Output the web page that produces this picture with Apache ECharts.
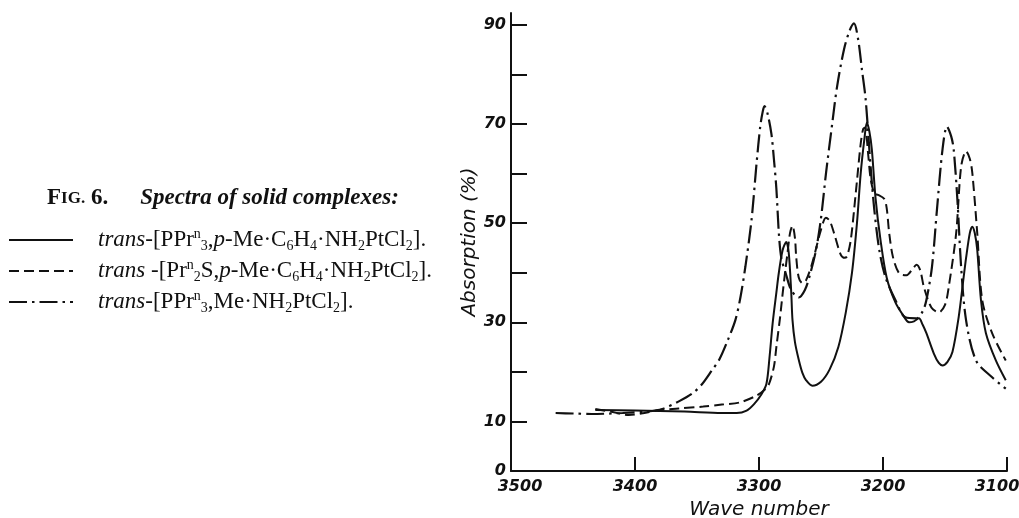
<!DOCTYPE html>
<html><head><meta charset="utf-8">
<script src="https://cdn.jsdelivr.net/npm/echarts@6/dist/echarts.min.js"></script>
<style>html,body{margin:0;padding:0;background:#fff}#c{width:1019px;height:518px}</style>
</head><body><div id="c"></div>
<script>
// ---- data ----
const xTickValues = [3500, 3400, 3300, 3200, 3100];
const yTickValues = [0, 10, 20, 30, 40, 50, 60, 70, 80, 90];
const yLabelValues = [0, 10, 30, 50, 70, 90];

const seriesNames = [
  'trans-[PPrn3,p-Me·C6H4·NH2PtCl2].',
  'trans-[Prn2S,p-Me·C6H4·NH2PtCl2].',
  'trans-[PPrn3,Me·NH2PtCl2].'
];

const solidWave = [3432,3400,3360,3330,3318,3310,3304,3298,3294,3291.5,3289,3286,3284,3281,3278,3276,3274,3273,3271,3268,3265,3262,3257,3250,3243,3236,3230,3225,3221,3218,3215,3213,3211,3209,3206,3202,3197,3190,3184,3179,3175,3171,3168,3165,3159,3155,3152,3148,3144,3139,3135,3133,3130,3128,3126,3124,3121,3117,3109,3101];
const solidAbs  = [12.3,12.2,12.0,11.7,11.7,12.2,13.5,15.5,17.6,23,29.8,36,40,44.5,46.2,44,36,30.5,26,22.5,19.8,18.3,17.2,18,20.5,25,32,40,50,60,67,70.3,68.5,64.9,55,46.6,39,34,31.5,30,30.2,30.8,29.5,27.8,23.7,21.8,21.3,22,24,31,39,43,48,49.3,48,44.6,34.5,27.8,22.3,18.3];

const dashedWave = [3432,3420,3405,3395,3380,3365,3345,3330,3316,3302,3295,3292,3288,3286,3283,3281.5,3279,3277,3275,3273,3271,3270,3268,3265,3262,3257,3250,3246,3243,3239.5,3234,3231,3229,3226,3222,3218,3216,3214.5,3212,3210,3207,3204,3199,3197,3195,3192,3187,3181,3176,3173,3170,3167,3161,3155,3150,3147,3141,3137,3133,3130,3128,3124,3120,3112,3101];
const dashedAbs  = [12.5,12.0,11.3,11.6,12.3,12.6,13.0,13.4,13.8,15.2,16.5,17.5,21,25,31,34.5,40,44,48,49.5,47,43.2,39.1,37.9,38.5,42,48.7,51.1,50.5,48,43.6,43,43.3,46.6,56,66,69,69.3,64,59,56,55.7,54.9,53,48,43.2,39.9,39.5,40.8,41.6,40.5,37.1,33,32,33.5,37.1,48,61.4,64.5,63,60.2,48,34.5,27.8,22.3];

const dashDotWave = [3464,3450,3435,3410,3390,3378,3365,3354,3346,3338,3332,3325,3319,3315,3311,3306,3302,3299,3297,3295.6,3293,3290,3288,3286,3284,3282,3278,3274,3268,3263,3259,3254,3250,3246,3241,3237,3231.5,3227,3223.4,3220,3217,3214,3210,3207,3203,3198,3190,3182,3173,3168,3165,3160.5,3156.5,3152,3148.4,3145,3143,3140,3137,3133,3125,3112,3101];
const dashDotAbs  = [11.7,11.6,11.5,11.7,12.0,12.5,14.0,15.6,17.5,20.3,22.5,26.5,30.5,35,41.2,50.7,62,69.5,72.5,73.6,72,68,63,57,48,43,39.5,36.5,35,36.5,39.5,44.6,51,60,70,77.6,85,88.8,90.3,87,81,75,61.4,52.7,44.6,39.1,34.5,31,30.8,32.2,34.5,41.2,52.7,64.9,69.5,67.5,64.9,54.7,41.2,30.4,22.3,18.9,16.6];

// ---- chart ----
const ink = '#111';
const zip = (xs, ys) => xs.map((x, i) => [x, ys[i]]);
const serif = 'Liberation Serif, DejaVu Serif, serif';
const sans = 'DejaVu Sans, sans-serif';
const FS = 23, SFS = 14, LH = 26;

const legendRich = {
  pad: {width: 20},
  r:   {fontFamily: serif, fontSize: FS, color: ink, lineHeight: LH},
  i:   {fontFamily: serif, fontSize: FS, fontStyle: 'italic', color: ink, lineHeight: LH},
  sub: {fontFamily: serif, fontSize: SFS, color: ink, lineHeight: 10, verticalAlign: 'bottom'},
  sup: {fontFamily: serif, fontSize: SFS, color: ink, lineHeight: 12, verticalAlign: 'top'}
};
const legendText = {};
legendText[seriesNames[0]] = '{pad|}{i|trans}{r|-[PPr}{sup|n}{sub|3}{r|,}{i|p}{r|-Me·C}{sub|6}{r|H}{sub|4}{r|·NH}{sub|2}{r|PtCl}{sub|2}{r|].}';
legendText[seriesNames[1]] = '{pad|}{i|trans}{r| -[Pr}{sup|n}{sub|2}{r|S,}{i|p}{r|-Me·C}{sub|6}{r|H}{sub|4}{r|·NH}{sub|2}{r|PtCl}{sub|2}{r|].}';
legendText[seriesNames[2]] = '{pad|}{i|trans}{r|-[PPr}{sup|n}{sub|3}{r|,Me·NH}{sub|2}{r|PtCl}{sub|2}{r|].}';

const styles = [
  {type: 'solid', width: 2},
  {type: [10, 5], width: 2},
  {type: [18, 5, 2.5, 5], width: 2.2}
];
const waves = [solidWave, dashedWave, dashDotWave];
const absVals = [solidAbs, dashedAbs, dashDotAbs];

const xLabelFmt = v => v === 3100 ? '{e|' + v + '}' : (v === 3500 ? '{s|' + v + '}' : '{n|' + v + '}');
const xLabelFont = {fontFamily: sans, fontWeight: 'bold', fontStyle: 'italic', fontSize: 16, color: ink};

const chart = echarts.init(document.getElementById('c'), null, {renderer: 'canvas'});
chart.setOption({
  animation: false,
  backgroundColor: '#fff',
  title: {
    left: 42, top: 180,
    text: '{F|F}{sc|IG.}{b| 6.}{sp|}{it|Spectra of solid complexes:}',
    textStyle: {
      rich: {
        F:  {fontFamily: serif, fontSize: FS, color: ink, lineHeight: LH},
        sc: {fontFamily: serif, fontSize: 17, color: ink, lineHeight: LH, verticalAlign: 'bottom', padding: [0, 0, 4, 0]},
        b:  {fontFamily: serif, fontSize: FS, fontWeight: 'bold', color: ink, lineHeight: LH},
        sp: {width: 32},
        it: {fontFamily: serif, fontSize: FS, fontStyle: 'italic', color: ink, lineHeight: LH}
      }
    }
  },
  legend: {
    orient: 'vertical', left: 3, top: 222,
    itemWidth: 64, itemHeight: 14, itemGap: 5,
    data: seriesNames,
    formatter: name => legendText[name],
    textStyle: {rich: legendRich},
    itemStyle: {opacity: 0},
    selectedMode: false
  },
  grid: {left: 511, right: 12, top: 13, bottom: 47, containLabel: false, outerBoundsMode: 'none'},
  xAxis: {
    type: 'value', min: 3100, max: 3500, interval: 100, inverse: true,
    axisLine: {onZero: false, lineStyle: {color: ink, width: 2}},
    axisTick: {inside: true, length: 14, lineStyle: {color: ink, width: 2}, customValues: xTickValues},
    axisLabel: {
      customValues: xTickValues, formatter: xLabelFmt, margin: 8,
      rich: {
        n: Object.assign({}, xLabelFont),
        s: Object.assign({padding: [0, 0, 0, 18]}, xLabelFont),
        e: Object.assign({padding: [0, 20, 0, 0]}, xLabelFont)
      }
    },
    splitLine: {show: false},
    name: 'Wave number', nameLocation: 'middle', nameGap: 24,
    nameTextStyle: {fontFamily: sans, fontStyle: 'italic', fontSize: 20, color: ink}
  },
  yAxis: {
    type: 'value', min: 0, max: 92.4,
    axisLine: {show: true, onZero: false, lineStyle: {color: ink, width: 2}},
    axisTick: {show: true, inside: true, length: 16, lineStyle: {color: ink, width: 2}, customValues: yTickValues},
    axisLabel: {customValues: yLabelValues, formatter: v => String(v), fontFamily: sans, fontWeight: 'bold', fontStyle: 'italic', fontSize: 16, color: ink, margin: 5},
    splitLine: {show: false},
    name: 'Absorption (%)', nameLocation: 'middle', nameGap: 24,
    nameTextStyle: {fontFamily: sans, fontStyle: 'italic', fontSize: 20, color: ink}
  },
  series: seriesNames.map((name, k) => ({
    type: 'line', name: name,
    data: zip(waves[k], absVals[k]),
    smooth: 0.3, symbol: 'none', showSymbol: false,
    lineStyle: {color: ink, width: styles[k].width, type: styles[k].type},
    itemStyle: {color: ink}
  }))
});
</script>
</body></html>
